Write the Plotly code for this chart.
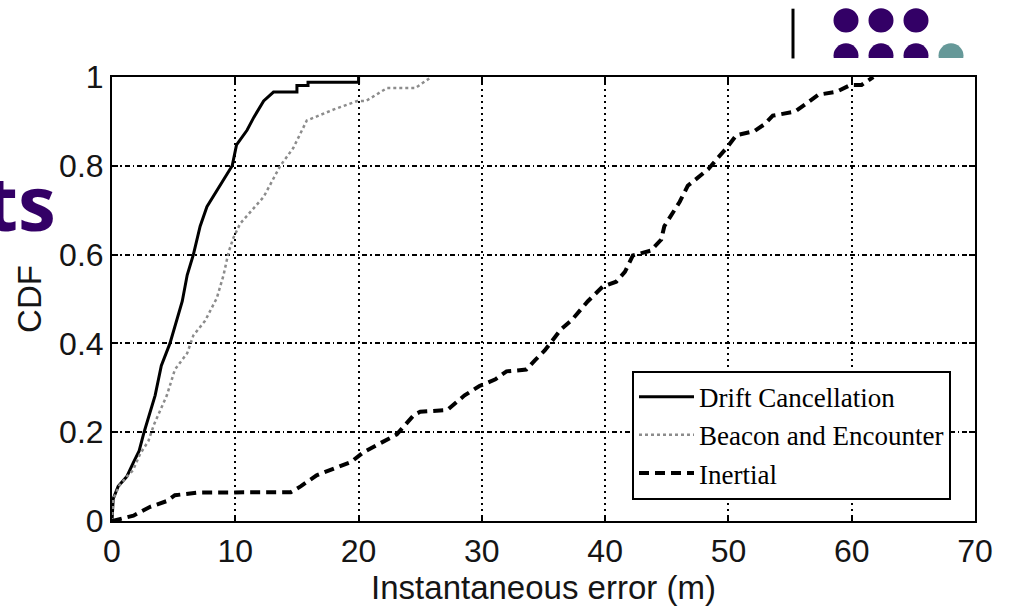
import plotly.graph_objects as go

# CDF of instantaneous localisation error for three methods
drift_x = [0, 0.1, 0.5, 1.2, 1.7, 2.2, 2.6, 3.5, 4.0, 4.7, 5.7, 6.1, 6.6, 7.15, 7.7, 8.7,
           9.75, 10.1, 10.6, 10.95, 11.5, 11.9, 12.3, 13.1, 15.0, 15.0, 15.9, 15.9, 20.0, 20.0]
drift_y = [0, 0.05, 0.078, 0.1, 0.13, 0.158, 0.2, 0.283, 0.35, 0.4, 0.495, 0.554, 0.6, 0.664,
           0.708, 0.752, 0.8, 0.847, 0.866, 0.88, 0.909, 0.927, 0.946, 0.966, 0.966, 0.981,
           0.981, 0.988, 0.988, 1.0]

beacon_x = [0, 0.1, 0.6, 1.2, 1.7, 2.3, 2.95, 3.4, 4.45, 5.1, 6.1, 6.6, 7.55, 8.5, 9.05, 9.45,
            9.85, 10.4, 12.3, 13.65, 14.7, 15.8, 18.0, 19.9, 20.6, 22.3, 24.6, 25.9]
beacon_y = [0, 0.05, 0.08, 0.1, 0.114, 0.152, 0.18, 0.217, 0.283, 0.341, 0.378, 0.418, 0.451,
            0.502, 0.554, 0.605, 0.638, 0.67, 0.73, 0.8, 0.84, 0.902, 0.927, 0.946, 0.946,
            0.975, 0.975, 1.0]

inertial_x = [0, 1.74, 3.1, 4.45, 5.1, 7.0, 14.5, 15.3, 16.6, 18.0, 19.4, 20.4, 22.1, 23.1,
              24.5, 25.0, 27.2, 28.6, 29.8, 31.1, 32.0, 33.6, 34.3, 35.1, 35.6, 36.4, 37.3,
              38.6, 39.8, 40.9, 41.6, 42.25, 43.7, 44.55, 44.8, 45.5, 46.05, 46.7, 47.5, 48.35,
              49.15, 49.85, 50.65, 52.1, 52.95, 53.6, 55.4, 56.2, 57.3, 58.8, 59.9, 60.8, 61.75]
inertial_y = [0.0, 0.012, 0.032, 0.045, 0.058, 0.064, 0.065, 0.078, 0.103, 0.118, 0.133, 0.155,
              0.18, 0.195, 0.239, 0.246, 0.25, 0.283, 0.304, 0.319, 0.337, 0.341, 0.362, 0.384,
              0.402, 0.431, 0.453, 0.495, 0.528, 0.539, 0.561, 0.598, 0.609, 0.634, 0.664,
              0.693, 0.719, 0.755, 0.774, 0.792, 0.818, 0.84, 0.869, 0.878, 0.894, 0.913,
              0.922, 0.938, 0.96, 0.967, 0.982, 0.982, 1.0]

x_ticks = [0, 10, 20, 30, 40, 50, 60, 70]
y_ticks = [0, 0.2, 0.4, 0.6, 0.8, 1]
y_tick_text = ["0", "0.2", "0.4", "0.6", "0.8", "1"]

W, H = 1011, 607
L, R, T, B = 112, 975, 77, 532  # plot area in pixels

def px(xp):
    return (xp - L) / (R - L)

def py(yp):
    return (B - yp) / (B - T)

fig = go.Figure()
fig.add_trace(go.Scatter(x=drift_x, y=drift_y, mode="lines", name="Drift Cancellation",
                         line=dict(color="black", width=3)))
fig.add_trace(go.Scatter(x=beacon_x, y=beacon_y, mode="lines", name="Beacon and Encounter",
                         line=dict(color="#8c8c8c", width=2.5, dash="dot")))
fig.add_trace(go.Scatter(x=inertial_x, y=inertial_y, mode="lines", name="Inertial",
                         line=dict(color="black", width=4, dash="10px,6px")))

tick_font = dict(family="Liberation Sans, Arial", size=32, color="#151515")
title_font = dict(family="Liberation Sans, Arial", size=33, color="#151515")

fig.update_layout(
    width=W, height=H,
    margin=dict(l=L, r=W - R, t=T, b=H - B),
    paper_bgcolor="white", plot_bgcolor="white",
    showlegend=True,
    legend=dict(x=px(632), y=py(378), xanchor="left", yanchor="top",
                bgcolor="white", bordercolor="black", borderwidth=2,
                font=dict(family="Liberation Serif, Times New Roman", size=27, color="black"),
                itemwidth=55, tracegroupgap=0),
    xaxis=dict(range=[0, 70], tickvals=x_ticks, ticks="inside", ticklen=6, tickwidth=1.5,
               tickcolor="black", showline=True, linecolor="black", linewidth=2, mirror="ticks",
               showgrid=True, gridcolor="black", gridwidth=1.5, griddash="2px,4px",
               zeroline=False, tickfont=tick_font, ticklabelstandoff=1,
               title=dict(text="Instantaneous error (m)", font=title_font, standoff=2)),
    yaxis=dict(range=[0, 1], tickvals=y_ticks, ticktext=y_tick_text, ticks="inside", ticklen=6,
               tickwidth=1.5, tickcolor="black", showline=True, linecolor="black", linewidth=2,
               mirror="ticks", showgrid=True, gridcolor="black", gridwidth=1.5,
               griddash="5px,3px,1.5px,3px", zeroline=False, tickfont=tick_font,
               ticklabelstandoff=0,
               title=dict(text="CDF", font=title_font, standoff=8)),
)

# slide decorations: title fragment, divider and dot cluster
PURPLE = "#330066"
TEAL = "#669999"
fig.add_annotation(text="<b>ts</b>", xref="paper", yref="paper", x=px(58), y=py(205),
                   xanchor="right", yanchor="middle", showarrow=False,
                   font=dict(family="Open Sans", size=76, color=PURPLE))

shapes = []
shapes.append(dict(type="line", xref="paper", yref="paper", x0=px(793), x1=px(793),
                   y0=py(7), y1=py(58), line=dict(color="black", width=3)))
r = 12.5
for cx, cy, col in [(846, 19, PURPLE), (881, 19, PURPLE), (916, 19, PURPLE),
                    (846, 55, PURPLE), (881, 55, PURPLE), (916, 55, PURPLE), (951, 55, TEAL)]:
    shapes.append(dict(type="circle", xref="paper", yref="paper",
                       x0=px(cx - r), x1=px(cx + r), y0=py(cy + r), y1=py(cy - r),
                       fillcolor=col, line=dict(width=0)))
shapes.append(dict(type="rect", xref="paper", yref="paper", x0=px(825), x1=px(975),
                   y0=py(72), y1=py(57.5), fillcolor="white", line=dict(width=0)))
fig.update_layout(shapes=shapes)

fig.write_html("out.html")
